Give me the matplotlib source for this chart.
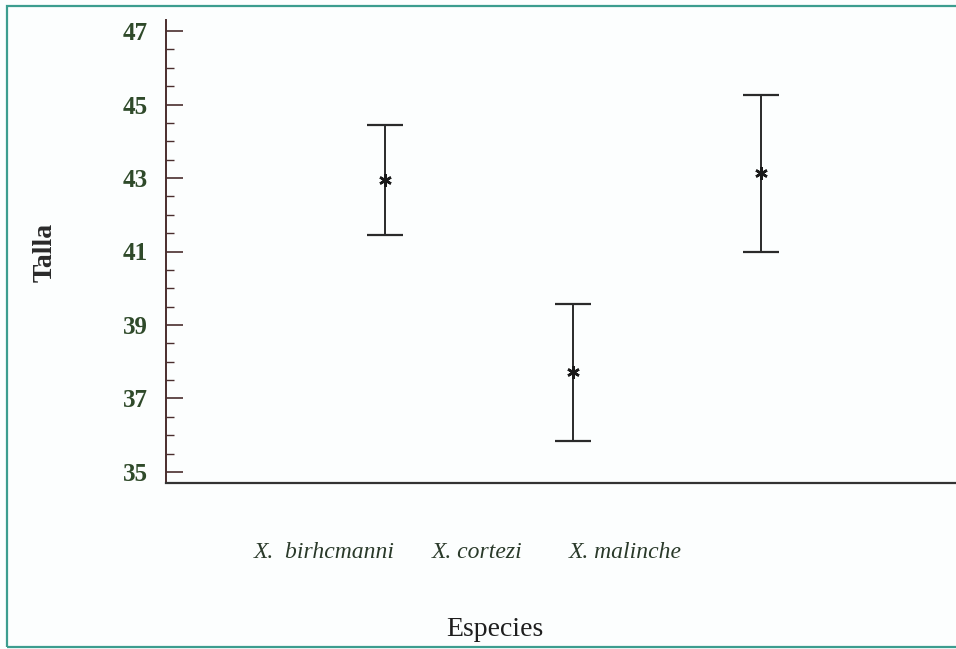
import matplotlib
matplotlib.use("Agg")
import matplotlib.pyplot as plt
from matplotlib.patches import Rectangle
from matplotlib.ticker import MultipleLocator

# DATOS
especies = ["X.  birhcmanni", "X. cortezi", "X. malinche"]
posiciones = [1, 2, 3]
medias = [42.95, 37.72, 43.14]
limite_inf = [41.45, 35.84, 40.99]
limite_sup = [44.44, 39.57, 45.26]
yticks = [35, 37, 39, 41, 43, 45, 47]

err_bajo = [m - lo for m, lo in zip(medias, limite_inf)]
err_alto = [hi - m for m, hi in zip(medias, limite_sup)]

plt.rcParams['font.family'] = ['Liberation Serif', 'DejaVu Serif']

fig = plt.figure(figsize=(9.56, 6.49), dpi=100)
fig.patch.set_facecolor('#fcfefe')
W, H = 956, 649

# marco turquesa alrededor de la figura
fig.patches.append(Rectangle((7 / W, 1 - 647 / H), 1.0, (647 - 6) / H,
                             transform=fig.transFigure, fill=False,
                             edgecolor='#3c9d8f', linewidth=1.6))

ax = fig.add_axes([166 / W, 1 - 483 / H, (W - 166) / W, (483 - 20) / H])
ax.set_facecolor('none')

ax.errorbar(posiciones, medias, yerr=[err_bajo, err_alto], fmt='none',
            ecolor='#2a2a2a', elinewidth=1.4, capsize=13.3, capthick=1.6)
ax.plot(posiciones, medias, linestyle='none', marker=(6, 2, 0),
        markersize=9, markeredgewidth=1.8, color='#1a1a1a')

ax.set_xlim(-0.165, 4.037)
ax.set_ylim(34.7, 47.3)
ax.set_yticks(yticks)
ax.yaxis.set_minor_locator(MultipleLocator(0.5))
ax.set_xticks([])

for s in ['top', 'right']:
    ax.spines[s].set_visible(False)
ax.spines['left'].set_color('#4a2e2e')
ax.spines['bottom'].set_color('#333333')
ax.spines['left'].set_linewidth(1.4)
ax.spines['bottom'].set_linewidth(1.6)

ax.tick_params(axis='y', which='major', direction='in', length=12, width=1.2,
               color='#4a2e2e', pad=13, labelsize=18, labelcolor='#2f4a2a')
ax.tick_params(axis='y', which='minor', direction='in', length=6, width=1.0,
               color='#4a2e2e')
for lab in ax.get_yticklabels():
    lab.set_fontweight('bold')

# etiquetas de especies (no alineadas con las barras en el original)
etiqueta_x = [324, 477, 625]
for x, nombre in zip(etiqueta_x, especies):
    fig.text(x / W, 1 - 553 / H, nombre, ha='center', va='center',
             fontsize=17, style='italic', color='#2a3a2a')

fig.text(495 / W, 1 - 630 / H, "Especies", ha='center', va='center',
         fontsize=20, color='#1e1e1e')
fig.text(45 / W, 1 - 252 / H, "Talla", ha='center', va='center',
         rotation=90, fontsize=20, fontweight='bold', color='#2a2a2a')

fig.savefig("out.png", dpi=100, facecolor=fig.get_facecolor())
